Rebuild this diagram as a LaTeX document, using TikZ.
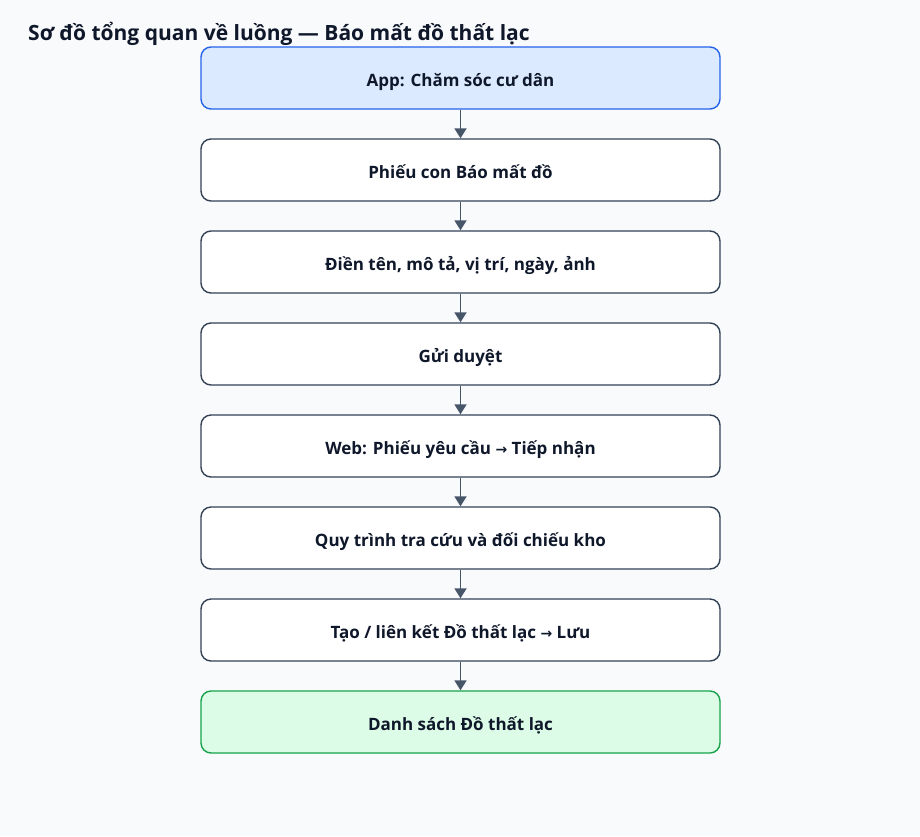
\documentclass[tikz,border=0pt]{standalone}
\usepackage{fontspec}
\setmainfont{Open Sans}
\newfontfamily\arrfont{DejaVu Sans}
\usetikzlibrary{arrows.meta}
\definecolor{bgc}{HTML}{F8FAFC}
\definecolor{txt}{HTML}{0F172A}
\definecolor{bord}{HTML}{334155}
\definecolor{lnk}{HTML}{475569}
\definecolor{bluebd}{HTML}{2563EB}
\definecolor{bluefl}{HTML}{DBEAFE}
\definecolor{greenbd}{HTML}{16A34A}
\definecolor{greenfl}{HTML}{DCFCE7}
\newcommand{\myarr}{{\arrfont\fontsize{14}{14}\selectfont →}}
\tikzset{
  stepbox/.style={draw=bord, fill=white, line width=1.4pt, rounded corners=10pt,
    minimum width=519pt, minimum height=62pt, inner sep=0pt},
  startbox/.style={stepbox, draw=bluebd, fill=bluefl},
  endbox/.style={stepbox, draw=greenbd, fill=greenfl},
  link/.style={draw=lnk, line width=1.8pt, -{Triangle[length=10pt,width=12pt]}},
  lbl/.style={font=\bfseries\fontsize{17}{20}\selectfont, text=txt, inner sep=0pt, anchor=base}
}
\begin{document}
\begin{tikzpicture}[x=1pt,y=-1pt]
\useasboundingbox (0,0) rectangle (920,836);
\fill[bgc] (0,0) rectangle (920,836);
\node[anchor=base west, inner sep=0pt, font=\bfseries\fontsize{21}{25}\selectfont, text=txt] (title) at (28,40) {Sơ đồ tổng quan về luồng — Báo mất đồ thất lạc};
\node[startbox] (n1) at (460.5,78) {};
\node[stepbox] (n2) at (460.5,170) {};
\node[stepbox] (n3) at (460.5,262) {};
\node[stepbox] (n4) at (460.5,354) {};
\node[stepbox] (n5) at (460.5,446) {};
\node[stepbox] (n6) at (460.5,538) {};
\node[stepbox] (n7) at (460.5,630) {};
\node[endbox] (n8) at (460.5,722) {};
\node[lbl] (t1) at ([yshift=-8.5pt]n1.center) {App: Chăm sóc cư dân};
\node[lbl] (t2) at ([yshift=-8.5pt]n2.center) {Phiếu con Báo mất đồ};
\node[lbl] (t3) at ([yshift=-8.5pt]n3.center) {Điền tên, mô tả, vị trí, ngày, ảnh};
\node[lbl] (t4) at ([yshift=-8.5pt]n4.center) {Gửi duyệt};
\node[lbl] (t5) at ([yshift=-8.5pt]n5.center) {Web: Phiếu yêu cầu \myarr{} Tiếp nhận};
\node[lbl] (t6) at ([yshift=-8.5pt]n6.center) {Quy trình tra cứu và đối chiếu kho};
\node[lbl] (t7) at ([yshift=-8.5pt]n7.center) {Tạo / liên kết Đồ thất lạc \myarr{} Lưu};
\node[lbl] (t8) at ([yshift=-8.5pt]n8.center) {Danh sách Đồ thất lạc};
\foreach \a/\b in {n1/n2,n2/n3,n3/n4,n4/n5,n5/n6,n6/n7,n7/n8}
  \draw[link] (\a.south) -- (\b.north);
\end{tikzpicture}
\end{document}
